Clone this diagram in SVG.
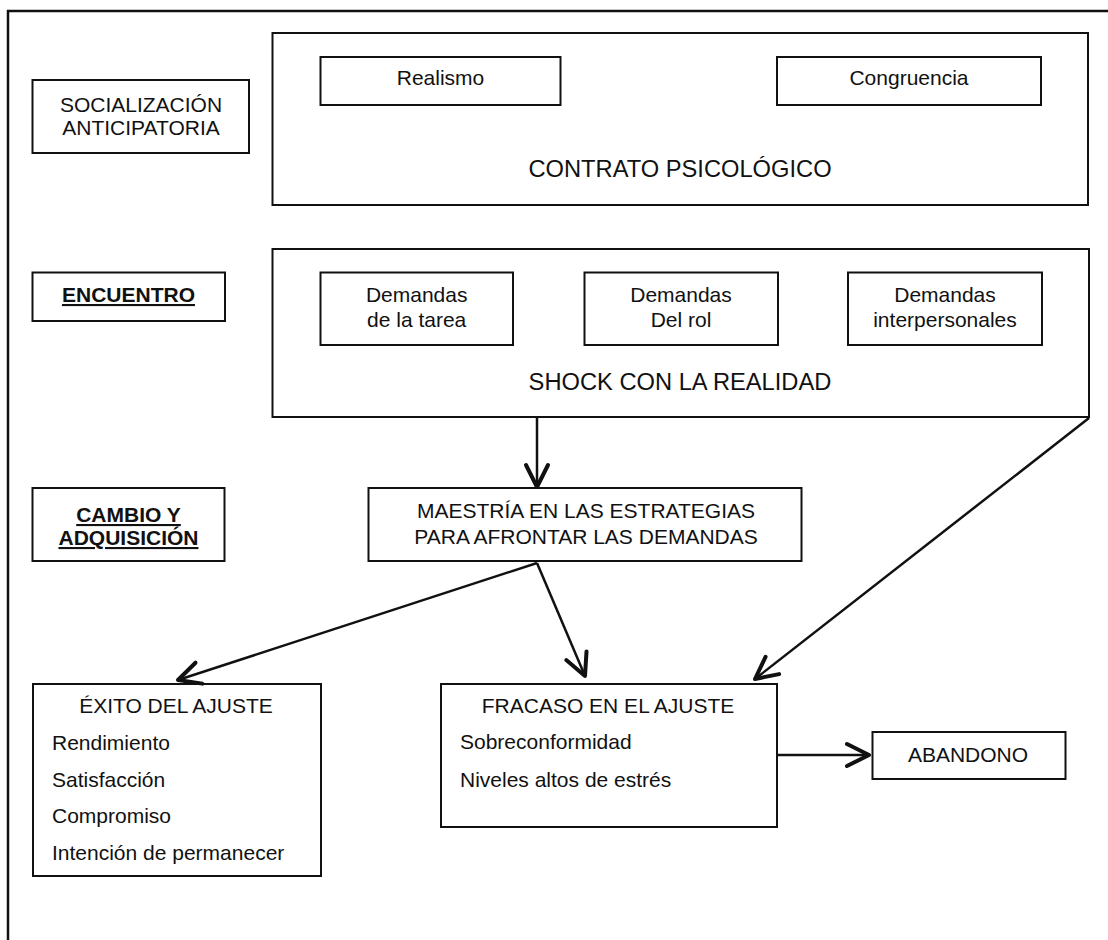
<svg xmlns="http://www.w3.org/2000/svg" width="1108" height="940" viewBox="0 0 1108 940">
  <style>
    .box { fill: #ffffff; stroke: #111111; stroke-width: 2; }
    .t { font-family: "Liberation Sans", Arial, sans-serif; font-size: 21px; fill: #111111; }
    .c { text-anchor: middle; }
    .big { font-size: 23.7px; }
    .hd { font-weight: bold; text-decoration: underline; }
    .wire { fill: none; stroke: #111111; stroke-width: 2.5; }
    .frame { fill: none; stroke: #111111; stroke-width: 2.5; }
  </style>
  <defs>
    <marker id="vee" markerUnits="userSpaceOnUse" markerWidth="30" markerHeight="30" viewBox="-26 -15 30 30" refX="0" refY="0" orient="auto">
      <path d="M -22,-11 L 0,0 L -22,11" fill="none" stroke="#111111" stroke-width="4" stroke-linecap="round" stroke-linejoin="round"/>
    </marker>
  </defs>

  <rect width="1108" height="940" fill="#ffffff"/>

  <!-- page frame: top and left edges -->
  <path class="frame" d="M 8,940 L 8,11 L 1110,11"/>

  <!-- stage labels -->
  <g id="socializacion">
    <rect class="box" x="32.5" y="80" width="216.5" height="73"/>
    <text class="t c" x="141" y="112">SOCIALIZACIÓN</text>
    <text class="t c" x="141" y="135">ANTICIPATORIA</text>
  </g>
  <g id="encuentro">
    <rect class="box" x="32.5" y="272.5" width="192.5" height="48.5"/>
    <text class="t c hd" x="128.5" y="302">ENCUENTRO</text>
  </g>
  <g id="cambio">
    <rect class="box" x="32.5" y="488" width="192" height="73"/>
    <text class="t c hd" x="128.5" y="522">CAMBIO Y</text>
    <text class="t c hd" x="128.5" y="545">ADQUISICIÓN</text>
  </g>

  <!-- psychological contract -->
  <g id="contrato">
    <rect class="box" x="272.5" y="33" width="815.5" height="172"/>
    <text class="t c big" x="680" y="177">CONTRATO PSICOLÓGICO</text>
  </g>
  <g id="realismo">
    <rect class="box" x="320.5" y="57" width="240" height="48"/>
    <text class="t c" x="440.5" y="85">Realismo</text>
  </g>
  <g id="congruencia">
    <rect class="box" x="777" y="57" width="264" height="48"/>
    <text class="t c" x="909" y="85">Congruencia</text>
  </g>

  <!-- reality shock -->
  <g id="shock">
    <rect class="box" x="272.5" y="249" width="816.5" height="168"/>
    <text class="t c big" x="680" y="390">SHOCK CON LA REALIDAD</text>
  </g>
  <g id="tarea">
    <rect class="box" x="320.5" y="272.5" width="192.5" height="72.5"/>
    <text class="t c" x="416.7" y="302">Demandas</text>
    <text class="t c" x="416.7" y="327">de la tarea</text>
  </g>
  <g id="rol">
    <rect class="box" x="584.5" y="272.5" width="193.5" height="72.5"/>
    <text class="t c" x="681" y="302">Demandas</text>
    <text class="t c" x="681" y="327">Del rol</text>
  </g>
  <g id="interpersonales">
    <rect class="box" x="848" y="272.5" width="194" height="72.5"/>
    <text class="t c" x="945" y="302">Demandas</text>
    <text class="t c" x="945" y="327">interpersonales</text>
  </g>

  <!-- coping mastery -->
  <g id="maestria">
    <rect class="box" x="368.5" y="488" width="433" height="73"/>
    <text class="t c" x="586" y="518">MAESTRÍA EN LAS ESTRATEGIAS</text>
    <text class="t c" x="586" y="544">PARA AFRONTAR LAS DEMANDAS</text>
  </g>

  <!-- outcomes -->
  <g id="exito">
    <rect class="box" x="33" y="684" width="288" height="192"/>
    <text class="t c" x="176" y="713">ÉXITO DEL AJUSTE</text>
    <text class="t" x="52" y="750">Rendimiento</text>
    <text class="t" x="52" y="787">Satisfacción</text>
    <text class="t" x="52" y="823">Compromiso</text>
    <text class="t" x="52" y="860">Intención de permanecer</text>
  </g>
  <g id="fracaso">
    <rect class="box" x="441" y="684" width="336" height="143"/>
    <text class="t c" x="608" y="713">FRACASO EN EL AJUSTE</text>
    <text class="t" x="460" y="749">Sobreconformidad</text>
    <text class="t" x="460" y="787">Niveles altos de estrés</text>
  </g>
  <g id="abandono">
    <rect class="box" x="872.5" y="732" width="193" height="47"/>
    <text class="t c" x="968" y="762">ABANDONO</text>
  </g>

  <!-- connectors -->
  <g id="connectors">
    <line class="wire" x1="537" y1="417" x2="537" y2="487" marker-end="url(#vee)" stroke-width="2"/>
    <line class="wire" x1="537" y1="563" x2="178" y2="680" marker-end="url(#vee)" stroke-width="3"/>
    <line class="wire" x1="537" y1="563" x2="585" y2="676" marker-end="url(#vee)"/>
    <line class="wire" x1="1089" y1="418" x2="755" y2="679" marker-end="url(#vee)"/>
    <line class="wire" x1="777" y1="755" x2="869" y2="755" marker-end="url(#vee)" stroke-width="3"/>
  </g>
</svg>
